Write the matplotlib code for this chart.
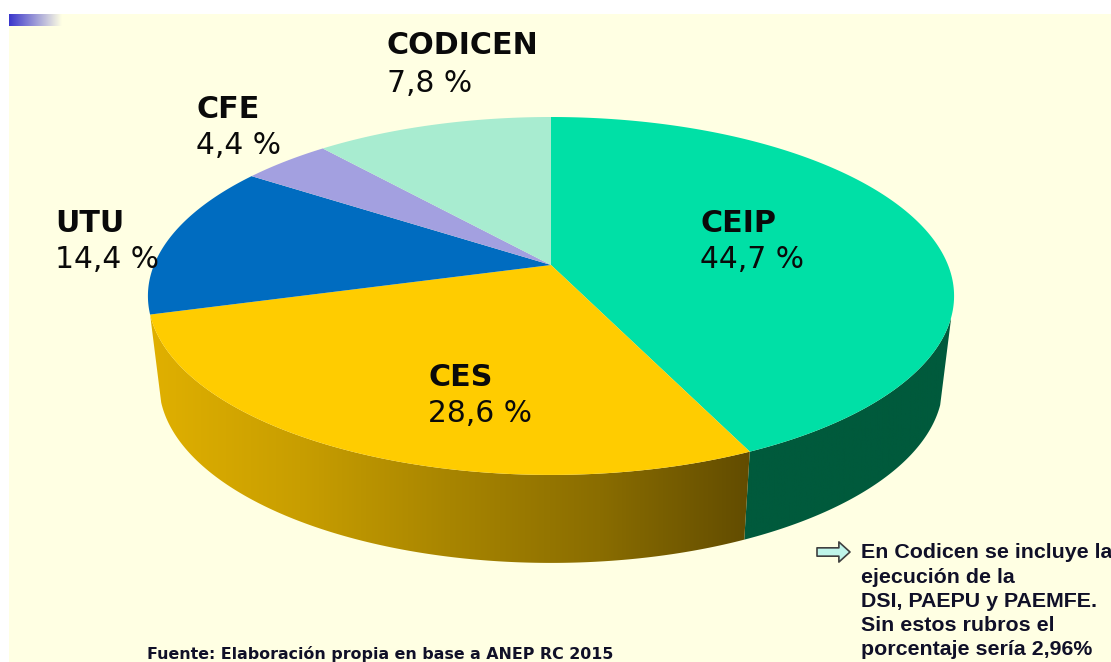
import matplotlib
matplotlib.use("Agg")
import matplotlib.pyplot as plt
from matplotlib.colors import LinearSegmentedColormap
from matplotlib.patches import Polygon
import numpy as np

names = ["CEIP", "CES", "UTU", "CFE", "CODICEN"]
values = [44.7, 28.6, 14.4, 4.4, 11.7]
value_labels = ["44,7 %", "28,6 %", "14,4 %", "4,4 %", "7,8 %"]
colors = ["#00e0a6", "#ffcc00", "#006cc0", "#a3a0e0", "#a8ecd0"]
label_pos = [(700, 223), (428, 377), (55, 223), (196, 109), (387, 46)]
note_lines = ["En Codicen se incluye la", "ejecución de la", "DSI, PAEPU y PAEMFE.",
              "Sin estos rubros el", "porcentaje sería 2,96%"]
source = "Fuente: Elaboración propia en base a ANEP RC 2015"

BG = "#ffffe3"
K = 0.173
WALL_START = 1.86  # angulo donde empieza a verse la pared derecha


def rim(a, cx=551.0, cy=265.0, ax_x=397.0, ax_y=173.6):
    # circulo en perspectiva, a=0 arriba y sentido horario
    a = np.asarray(a)
    w = 1 + K * np.cos(a)
    return cx + ax_x * np.sin(a) / w, cy - ax_y * np.cos(a) / w


def rim_low(a):
    return rim(a, cx=551.0, cy=353.0, ax_x=386.0, ax_y=173.6)


fig = plt.figure(figsize=(11.11, 6.62), dpi=100, facecolor="white")
ax = fig.add_axes([0, 0, 1, 1])
ax.set_xlim(0, 1111)
ax.set_ylim(662, 0)
ax.axis("off")

ax.fill_between([9, 1111], 14, 662, color=BG, lw=0, zorder=0)
bar_cmap = LinearSegmentedColormap.from_list("bar", ["#3a36cc", BG])
ax.imshow(np.linspace(0, 1, 200)[None, :], extent=(9, 62, 26, 14), cmap=bar_cmap,
          aspect="auto", zorder=1)

edges = 2 * np.pi * np.cumsum([0] + values) / sum(values)

# paredes laterales, solo la parte visible de las dos primeras porciones
side_cmaps = [LinearSegmentedColormap.from_list("g", ["#005a3c", "#005a3c"]),
              LinearSegmentedColormap.from_list("y", ["#e0b000", "#c89e00", "#a88500", "#8a6d00", "#624c00"])]
for i in range(2):
    a = np.linspace(max(edges[i], WALL_START), edges[i + 1], 200)
    x1, y1 = rim(a)
    x2, y2 = rim_low(a)
    pts = np.column_stack([np.r_[x1, x2[::-1]], np.r_[y1, y2[::-1]]])
    side = Polygon(pts, closed=True, fc="none", ec="none")
    ax.add_patch(side)
    grad = np.linspace(0, 1, 256)[None, :]
    im = ax.imshow(grad, extent=(pts[:, 0].min(), pts[:, 0].max(), pts[:, 1].max(), pts[:, 1].min()),
                   cmap=side_cmaps[i], aspect="auto", zorder=2)
    im.set_clip_path(side)

# cara superior
for i in range(len(values)):
    a = np.linspace(edges[i], edges[i + 1], 200)
    x, y = rim(a)
    ax.add_patch(Polygon(np.column_stack([np.r_[551.0, x], np.r_[265.0, y]]), closed=True,
                         fc=colors[i], ec="none", zorder=3))

for i in range(len(names)):
    lx, ly = label_pos[i]
    ax.text(lx, ly, names[i], fontsize=21.7, fontweight="bold", family="DejaVu Sans",
            color="#0a0a0a", va="center", ha="left", zorder=5)
    ax.text(lx, ly + 37, value_labels[i], fontsize=21.4, family="DejaVu Sans",
            color="#0a0a0a", va="center", ha="left", zorder=5)

# flecha de la nota
ax.annotate("", xy=(850, 552), xytext=(817, 552), zorder=5,
            arrowprops=dict(arrowstyle="simple,head_length=0.8,head_width=1.45,tail_width=0.6",
                            fc="#bff5ea", ec="#404040", lw=1.2, shrinkA=0, shrinkB=0))
for i, line in enumerate(note_lines):
    ax.text(861, 553 + i * 24.1, line, fontsize=15.4, fontweight="bold", family="Liberation Sans",
            color="#101028", va="center", ha="left", zorder=5)

ax.text(147, 659, source, fontsize=11.4, fontweight="bold", family="DejaVu Sans",
        color="#101028", va="baseline", ha="left", zorder=5)

fig.savefig("out.png", dpi=100, facecolor="white")
plt.close(fig)
